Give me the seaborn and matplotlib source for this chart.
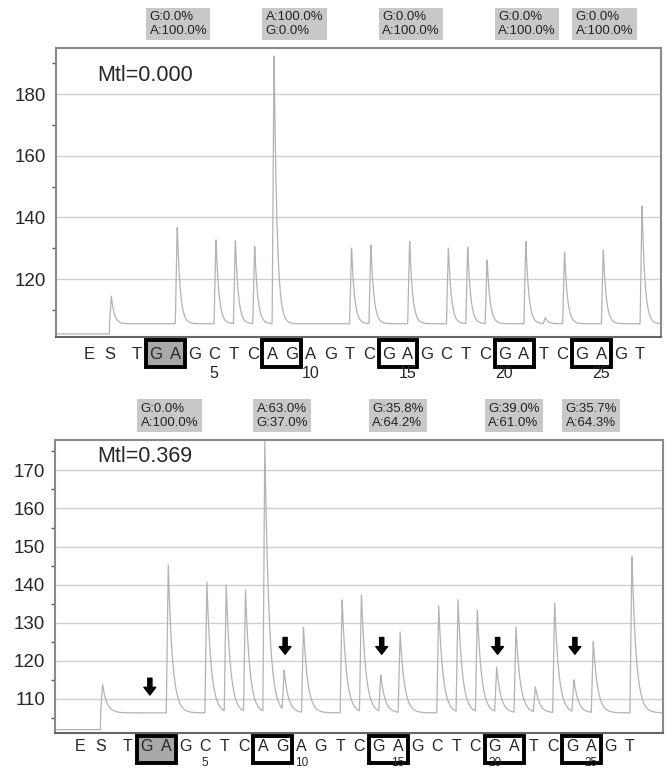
import numpy as np
import pandas as pd
import seaborn as sns
import matplotlib.pyplot as plt
from matplotlib.patches import Rectangle
from matplotlib.ticker import MultipleLocator

# dispensation order (E = enzyme, S = substrate)
letters = list("ESTGAGCTCAGAGTCGAGCTCGATCGAGT")
positions = np.array([-0.45, 0.6] + list(range(2, 29)), dtype=float)
numbered = {6: "5", 11: "10", 16: "15", 21: "20", 26: "25"}

# boxed G/A pairs (index of first letter)
box_starts = [3, 9, 15, 21, 25]

nan = np.nan
# peak heights
top_peaks = [nan, 114.5, nan, nan, 137.6, nan, 133.5, 133.2, 131.3, 195.0,
             nan, nan, nan, 130.8, 131.8, nan, 133.0, nan, 130.7, 131.0,
             126.7, nan, 132.9, 107.5, 129.2, nan, 130.0, nan, 144.6]
bottom_peaks = [nan, 113.9, nan, nan, 145.7, nan, 140.9, 139.7, 138.4, 177.5,
                116.8, 129.0, nan, 136.7, 137.6, 116.1, 127.8, nan, 134.8, 136.0,
                133.2, 118.1, 128.8, 112.9, 135.2, 114.8, 125.3, nan, 148.2]

top_labels = ["G:0.0%\nA:100.0%", "A:100.0%\nG:0.0%", "G:0.0%\nA:100.0%",
              "G:0.0%\nA:100.0%", "G:0.0%\nA:100.0%"]
bottom_labels = ["G:0.0%\nA:100.0%", "A:63.0%\nG:37.0%", "G:35.8%\nA:64.2%",
                 "G:39.0%\nA:61.0%", "G:35.7%\nA:64.3%"]

# arrows in the lower pyrogram: dispensation index, arrow tip value
arrow_idx = [3, 10, 15, 21, 25]
arrow_tip = [111.0, 121.7, 121.7, 121.7, 121.7]


def make_trace(peaks, base_pre, base_post, xlim, tau):
    xs = np.linspace(xlim[0], xlim[1], 4000)
    s_pos = positions[1]
    ys = np.where(xs < s_pos, base_pre, base_post).astype(float)
    for p, h in zip(positions, peaks):
        if np.isnan(h):
            continue
        amp = h - base_post
        rise = (xs >= p) & (xs < p + 0.1)
        ys[rise] += amp * (xs[rise] - p) / 0.1
        dec = xs >= p + 0.1
        ys[dec] += amp * np.exp(-(xs[dec] - p - 0.1) / tau)
    return pd.DataFrame({"x": xs, "signal": ys})


sns.set_style("white")
plt.rcParams['font.family'] = ['Liberation Sans', 'DejaVu Sans']

fig = plt.figure(figsize=(6.66, 7.70), dpi=100)

panels = [
    dict(rect=[56 / 666, 1 - 337 / 770, 605 / 666, 289 / 770], peaks=top_peaks,
         pre=102.2, post=105.5, ylim=(101.2, 195), xlim=(-2.16, 29.08), tau=0.15,
         major=20, minor=10, labels=top_labels, mtl="Mtl=0.000", mtl_y=0.906,
         arrows=False, let_off=-12.3, let_size=12, num_off=-26.5, num_size=11.5),
    dict(rect=[55 / 666, 1 - 733 / 770, 608 / 666, 293 / 770], peaks=bottom_peaks,
         pre=101.9, post=106.3, ylim=(101.0, 178), xlim=(-1.76, 29.71), tau=0.22,
         major=10, minor=5, labels=bottom_labels, mtl="Mtl=0.369", mtl_y=0.943,
         arrows=True, let_off=-9.5, let_size=11.5, num_off=-21.5, num_size=8.5),
]

for pnl in panels:
    ax = fig.add_axes(pnl["rect"])
    df = make_trace(pnl["peaks"], pnl["pre"], pnl["post"], pnl["xlim"], pnl["tau"])
    sns.lineplot(data=df, x="x", y="signal", ax=ax, color="#b3b3b3", lw=0.9,
                 estimator=None, sort=False)
    ax.set_xlim(*pnl["xlim"])
    ax.set_ylim(*pnl["ylim"])
    ax.set_xlabel("")
    ax.set_ylabel("")
    ax.yaxis.set_major_locator(MultipleLocator(pnl["major"]))
    ax.yaxis.set_minor_locator(MultipleLocator(pnl["minor"]))
    ax.yaxis.grid(True, color="#cfcfcf", lw=1)
    ax.xaxis.grid(False)
    ax.set_xticks(positions)
    ax.set_xticklabels([])
    ax.tick_params(axis="x", direction="inout", length=6, width=1, color="#555555")
    ax.tick_params(axis="y", which="major", direction="out", length=4, width=1,
                   color="#555555", labelsize=13.5, pad=3)
    ax.tick_params(axis="y", which="minor", direction="out", length=3, width=1,
                   color="#555555", left=True)
    for sp in ax.spines.values():
        sp.set_color("#8a8a8a")
        sp.set_linewidth(1.5)
    ax.spines["bottom"].set_color("#666666")

    trans = ax.get_xaxis_transform()
    ax_h = pnl["rect"][3] * 770

    # dispensation letters and numbers
    for i, (p, let) in enumerate(zip(positions, letters)):
        ax.annotate(let, xy=(p, 0), xycoords=trans, xytext=(0, pnl["let_off"]),
                    textcoords="offset points", ha="center", va="center",
                    fontsize=pnl["let_size"], annotation_clip=False)
        if i in numbered:
            ax.annotate(numbered[i], xy=(p, 0), xycoords=trans,
                        xytext=(0, pnl["num_off"]), textcoords="offset points",
                        ha="center", va="center", fontsize=pnl["num_size"],
                        annotation_clip=False)

    # boxes around G/A pairs
    for k, s in enumerate(box_starts):
        x0 = positions[s] - 0.5
        rect = Rectangle((x0, -30 / ax_h), 2.0, 27 / ax_h, transform=trans,
                         facecolor="#a8a8a8" if k == 0 else "none",
                         edgecolor="black", lw=2.8, clip_on=False, zorder=0)
        ax.add_patch(rect)

    # percentage labels above the plot
    for s, lab in zip(box_starts, pnl["labels"]):
        ax.text(positions[s] - 0.33, 1.083, lab, transform=trans, ha="left",
                va="center", fontsize=9.5, color="#222222", linespacing=1.2,
                bbox=dict(boxstyle="square,pad=0.25", facecolor="#c8c8c8",
                          edgecolor="none"))

    ax.text(0.069, pnl["mtl_y"], pnl["mtl"], transform=ax.transAxes,
            ha="left", va="center", fontsize=15.5)

    if pnl["arrows"]:
        for i, tip in zip(arrow_idx, arrow_tip):
            xa = positions[i] + 0.15
            ax.annotate("", xy=(xa, tip), xytext=(xa, tip + 4.4),
                        arrowprops=dict(facecolor="black", edgecolor="black",
                                        width=3, headwidth=8.5, headlength=5.5,
                                        shrink=0))

fig.savefig("out.png", dpi=100)
